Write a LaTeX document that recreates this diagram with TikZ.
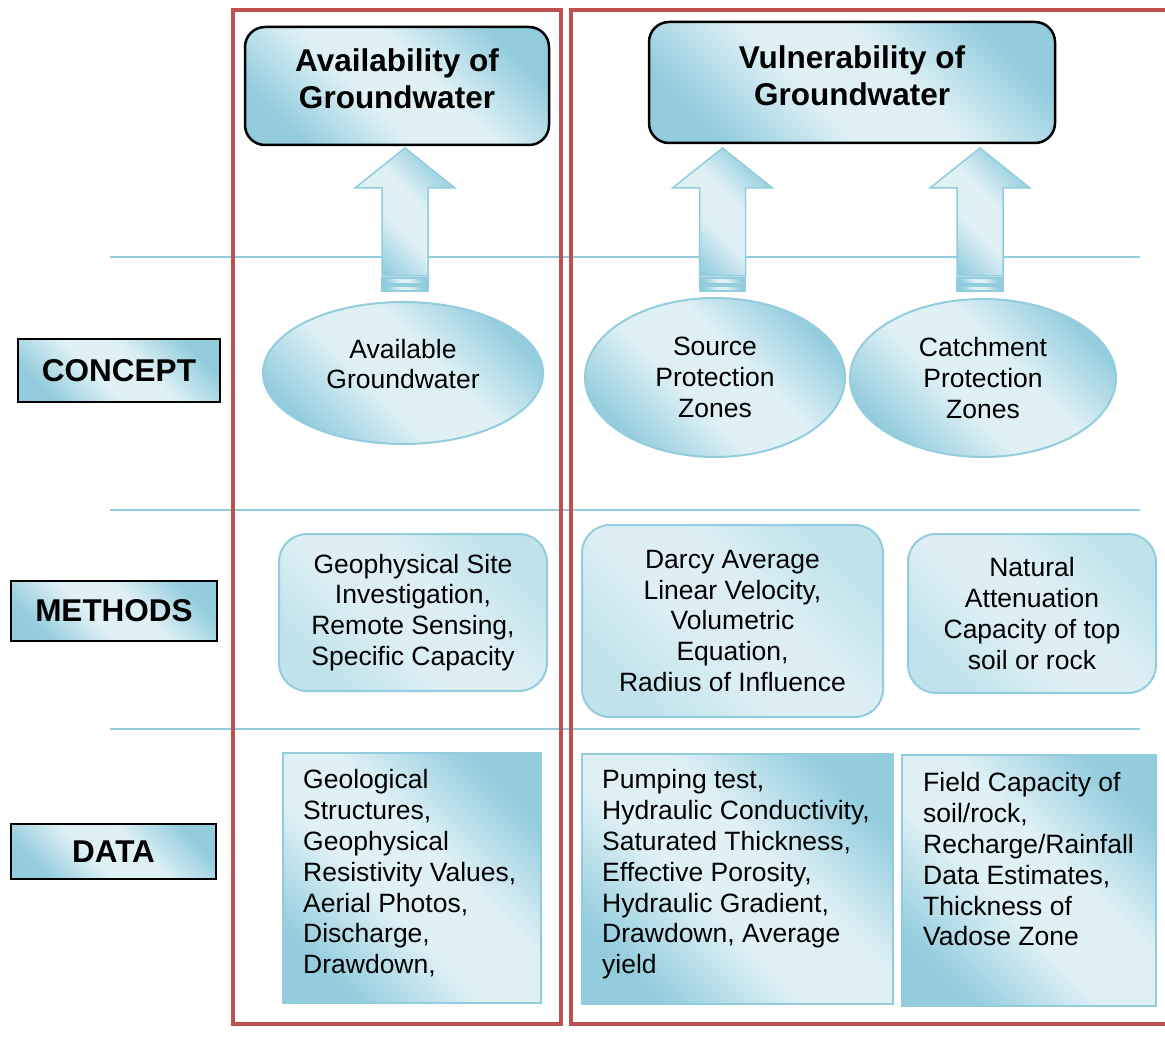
\documentclass[tikz,border=0pt]{standalone}
\usepackage{fontspec}
\setmainfont{Liberation Sans}
\usetikzlibrary{shapes.geometric,calc}
\definecolor{bdark}{HTML}{93CDDD}
\definecolor{blight}{HTML}{E0F1F6}
\definecolor{mlight}{HTML}{DDEFF5}
\definecolor{mdark}{HTML}{BFE2EB}
\definecolor{redline}{HTML}{C0504D}
\pgfdeclareverticalshading{softblue}{100bp}{color(0bp)=(bdark); color(25bp)=(bdark); color(43bp)=(blight); color(57bp)=(blight); color(75bp)=(bdark); color(100bp)=(bdark)}
\pgfdeclareverticalshading{softmeth}{100bp}{color(0bp)=(mdark); color(25bp)=(mdark); color(43bp)=(mlight); color(57bp)=(mlight); color(75bp)=(mdark); color(100bp)=(mdark)}
\newcommand\blockuparrow[2]{%
  \path[arrowstyle] (#1,#2) -- (#1+50,#2+40) -- (#1+23,#2+40) -- (#1+23,#2+128)
     -- (#1-23,#2+128) -- (#1-23,#2+40) -- (#1-50,#2+40) -- cycle;
  \path[arrowstyle] (#1-23,#2+130) rectangle (#1+23,#2+136);
  \path[arrowstyle] (#1-23,#2+138) rectangle (#1+23,#2+143);
}
\begin{document}
\begin{tikzpicture}[x=1pt,y=-1pt,
  grad/.style={shade, shading=softblue, shading angle=-45},
  mgrad/.style={shade, shading=softmeth, shading angle=-45},
  body/.style={font=\fontsize{26.5}{30.8}\selectfont},
  titlebox/.style={draw=black, line width=2.5pt, rounded corners=20pt, grad, inner sep=0},
  titletxt/.style={font=\bfseries\fontsize{31.5}{37}\selectfont, align=center, inner sep=0},
  rowlabel/.style={draw=black, line width=2pt, grad, inner sep=0, font=\bfseries\fontsize{31.5}{37}\selectfont},
  ell/.style={ellipse, draw=bdark, line width=2pt, grad, inner sep=0, align=center, body},
  methbox/.style={rounded corners=28pt, draw=bdark, line width=2pt, mgrad, inner sep=0, align=center, body},
  databox/.style={draw=bdark, line width=2pt, grad, inner sep=0},
  datatxt/.style={body, align=left, anchor=north west, inner sep=0},
  hline/.style={draw=bdark, line width=2.5pt},
  redbox/.style={draw=redline, line width=3.5pt},
  arrowstyle/.style={draw=bdark, line width=1.5pt, grad}
]
\useasboundingbox (0,0) rectangle (1165,1043);

% horizontal separators
\coordinate (h1a) at (110,257); \coordinate (h1b) at (1140,257);
\coordinate (h2a) at (110,510); \coordinate (h2b) at (1140,510);
\coordinate (h3a) at (110,729); \coordinate (h3b) at (1140,729);
\draw[hline] (h1a) -- (h1b);
\draw[hline] (h2a) -- (h2b);
\draw[hline] (h3a) -- (h3b);

% red frames
\draw[redbox] (233,10) rectangle (561,1024);
\draw[redbox] (571,10) rectangle (1200,1024);

% titles
\node[titlebox, minimum width=304pt, minimum height=118pt] (t1) at (397,86) {};
\node[titletxt] (t1txt) at ([yshift=7pt]t1.center) {Availability of\\Groundwater};
\node[titlebox, minimum width=406pt, minimum height=121pt] (t2) at (852,82.5) {};
\node[titletxt] (t2txt) at ([yshift=6.5pt]t2.center) {Vulnerability of\\Groundwater};

% arrows
\blockuparrow{405}{148}
\blockuparrow{722.5}{148}
\blockuparrow{980}{148}

% row labels
\node[rowlabel, minimum width=202pt, minimum height=63pt] (concept) at (119,370.5) {CONCEPT};
\node[rowlabel, minimum width=206pt, minimum height=60pt] (methods) at (114,611) {METHODS};
\node[rowlabel, minimum width=205pt, minimum height=55pt] (data) at (113.5,851.5) {DATA};

% concepts
\node[ell, minimum width=280pt, minimum height=142pt] (e1) at (403,373) {};
\node[body, align=center, inner sep=0] (e1txt) at ([yshift=9pt]e1.center) {Available\\Groundwater};
\node[ell, minimum width=260pt, minimum height=159pt] (e2) at (715,377.5) {Source\\Protection\\Zones};
\node[ell, minimum width=266pt, minimum height=158pt] (e3) at (983,378) {Catchment\\Protection\\Zones};

% methods
\node[methbox, minimum width=268pt, minimum height=157pt] (m1) at (413,612.5)
  {Geophysical Site\\Investigation,\\Remote Sensing,\\Specific Capacity};
\node[methbox, minimum width=301pt, minimum height=192pt] (m2) at (732.5,621)
  {Darcy Average\\Linear Velocity,\\Volumetric\\Equation,\\Radius of Influence};
\node[methbox, minimum width=248pt, minimum height=159pt] (m3) at (1032,613.5)
  {Natural\\Attenuation\\Capacity of top\\soil or rock};

% data
\node[databox, minimum width=258pt, minimum height=250pt] (d1) at (412,878) {};
\node[datatxt] (d1txt) at ([xshift=21pt,yshift=-17.5pt]d1.north west)
  {Geological\\Structures,\\Geophysical\\Resistivity Values,\\Aerial Photos,\\Discharge,\\Drawdown,};
\node[databox, minimum width=311pt, minimum height=250pt] (d2) at (737.5,879) {};
\node[datatxt] (d2txt) at ([xshift=21pt,yshift=-16.5pt]d2.north west)
  {Pumping test,\\Hydraulic Conductivity,\\Saturated Thickness,\\Effective Porosity,\\Hydraulic Gradient,\\Drawdown, Average\\yield};
\node[databox, minimum width=254pt, minimum height=251pt] (d3) at (1029,880.5) {};
\node[datatxt] (d3txt) at ([xshift=22pt,yshift=-18.5pt]d3.north west)
  {Field Capacity of\\soil/rock,\\Recharge/Rainfall\\Data Estimates,\\Thickness of\\Vadose Zone};
\end{tikzpicture}
\end{document}
